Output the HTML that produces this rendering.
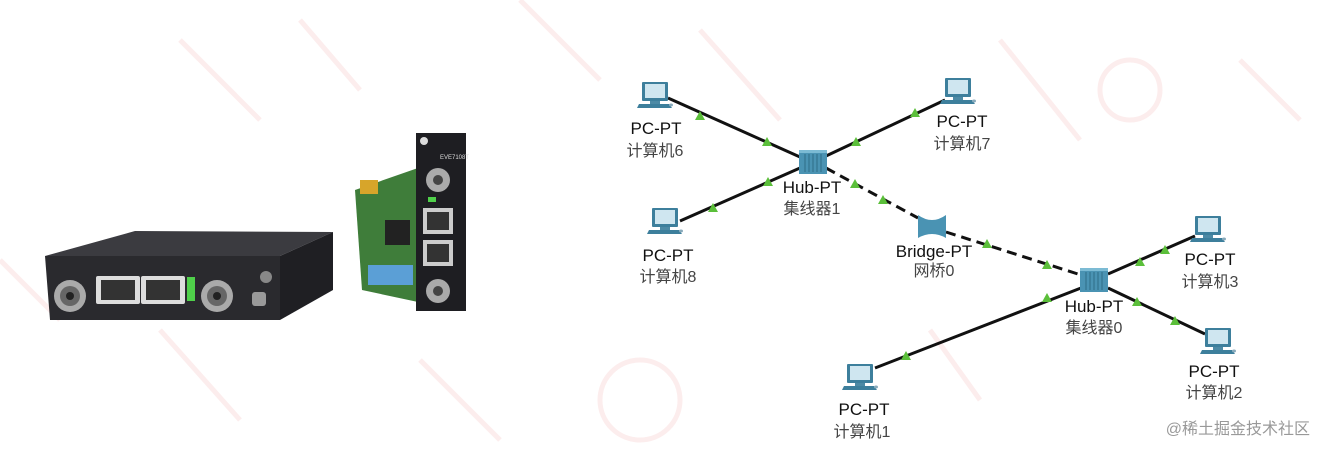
<!DOCTYPE html>
<html><head><meta charset="utf-8"><style>
html,body{margin:0;padding:0;background:#fff;}
svg{display:block;}
text{font-family:"Liberation Sans","Noto Sans CJK SC",sans-serif;}
</style></head><body>
<svg width="1324" height="454" viewBox="0 0 1324 454" xmlns="http://www.w3.org/2000/svg">
<defs>
<g id="pc">
  <rect x="-13" y="-14" width="26" height="19" fill="#3d7f9c" rx="1"/>
  <rect x="-10" y="-12" width="20" height="14" fill="#cfe6f0"/>
  <rect x="-5" y="5" width="10" height="3" fill="#4d8aa5"/>
  <polygon points="-16,8 14,8 17,12 -18,12" fill="#3d7f9c"/>
  <ellipse cx="16" cy="9" rx="2" ry="1.5" fill="#8ab"/>
</g>
<g id="hub">
  <rect x="-14" y="-12" width="28" height="24" fill="#4a93b3"/>
  <rect x="-14" y="-12" width="28" height="3" fill="#7cbbd4"/>
  <path d="M-8-8v18M-4-8v18M0-8v18M4-8v18M8-8v18" stroke="#2f6d87" stroke-width="1"/>
</g>
<polygon id="tri" points="0,-5 5,4 -5,4" fill="#5bbf3a"/>
</defs>

<g stroke="#fbe6e6" stroke-width="5" fill="none" opacity="0.7">
  <path d="M180 40 L260 120 M300 20 L360 90 M520 0 L600 80 M700 30 L780 120 M1000 40 L1080 140 M1240 60 L1300 120 M0 260 L60 320 M160 330 L240 420 M420 360 L500 440 M930 330 L980 400"/>
  <circle cx="640" cy="400" r="40"/>
  <circle cx="1130" cy="90" r="30"/>
</g>

<polygon points="45,256 135,231 333,232 280,256" fill="#3b3b40"/>
<polygon points="280,256 333,232 333,290 280,320" fill="#1f1f23"/>
<polygon points="45,256 280,256 280,320 50,320" fill="#2a2a2e"/>
<rect x="96" y="276" width="44" height="28" fill="#ddd" rx="2"/>
<rect x="101" y="280" width="34" height="20" fill="#333"/>
<rect x="141" y="276" width="44" height="28" fill="#ddd" rx="2"/>
<rect x="146" y="280" width="34" height="20" fill="#333"/>
<rect x="187" y="277" width="8" height="24" fill="#4fd04a"/>
<circle cx="70" cy="296" r="16" fill="#aaa"/><circle cx="70" cy="296" r="10" fill="#666"/><circle cx="70" cy="296" r="4" fill="#222"/>
<circle cx="217" cy="296" r="16" fill="#aaa"/><circle cx="217" cy="296" r="10" fill="#666"/><circle cx="217" cy="296" r="4" fill="#222"/>
<rect x="252" y="292" width="14" height="14" fill="#999" rx="3"/>
<circle cx="266" cy="277" r="6" fill="#888"/>

<polygon points="355,190 418,168 418,302 362,290" fill="#3f7d3a"/>
<rect x="360" y="180" width="18" height="14" fill="#d7a52a"/>
<rect x="368" y="265" width="45" height="20" fill="#5b9fd6"/>
<rect x="385" y="220" width="25" height="25" fill="#222"/>
<rect x="416" y="133" width="50" height="178" fill="#1e1e22"/>
<circle cx="438" cy="180" r="12" fill="#aaa"/><circle cx="438" cy="180" r="5" fill="#444"/>
<circle cx="438" cy="291" r="12" fill="#aaa"/><circle cx="438" cy="291" r="5" fill="#444"/>
<rect x="423" y="208" width="30" height="26" fill="#ccc"/><rect x="427" y="212" width="22" height="18" fill="#333"/>
<rect x="423" y="240" width="30" height="26" fill="#ccc"/><rect x="427" y="244" width="22" height="18" fill="#333"/>
<rect x="428" y="197" width="8" height="5" fill="#4fd04a"/>
<circle cx="424" cy="141" r="4" fill="#ddd"/>
<text x="440" y="159" font-size="6" fill="#ddd">EVE7108T</text>

<g stroke="#111" stroke-width="3" fill="none">
  <line x1="668" y1="98" x2="800" y2="157"/>
  <line x1="945" y1="100" x2="826" y2="156"/>
  <line x1="680" y1="221" x2="800" y2="168"/>
  <line x1="826" y1="168" x2="918" y2="218" stroke-dasharray="10,6"/>
  <line x1="946" y1="232" x2="1081" y2="275" stroke-dasharray="10,6"/>
  <line x1="1108" y1="274" x2="1195" y2="236"/>
  <line x1="1108" y1="288" x2="1205" y2="334"/>
  <line x1="1081" y1="288" x2="875" y2="368"/>
</g>
<g>
  <use href="#tri" x="700" y="116"/><use href="#tri" x="767" y="142"/>
  <use href="#tri" x="915" y="113"/><use href="#tri" x="856" y="142"/>
  <use href="#tri" x="713" y="208"/><use href="#tri" x="768" y="182"/>
  <use href="#tri" x="855" y="184"/><use href="#tri" x="883" y="200"/>
  <use href="#tri" x="987" y="244"/><use href="#tri" x="1047" y="265"/>
  <use href="#tri" x="1140" y="262"/><use href="#tri" x="1165" y="250"/>
  <use href="#tri" x="1137" y="302"/><use href="#tri" x="1175" y="321"/>
  <use href="#tri" x="1047" y="298"/><use href="#tri" x="906" y="356"/>
</g>

<use href="#pc" x="655" y="96"/>
<use href="#pc" x="958" y="92"/>
<use href="#pc" x="665" y="222"/>
<use href="#pc" x="1208" y="230"/>
<use href="#pc" x="1218" y="342"/>
<use href="#pc" x="860" y="378"/>
<use href="#hub" x="813" y="162"/>
<use href="#hub" x="1094" y="280"/>
<path d="M918 215 Q932 225 946 215 L946 238 Q932 230 918 238 Z" fill="#4a93b3"/>

<g font-size="17" text-anchor="middle" fill="#111">
  <text x="656" y="134">PC-PT</text>
  <text x="962" y="127">PC-PT</text>
  <text x="668" y="261">PC-PT</text>
  <text x="812" y="193">Hub-PT</text>
  <text x="934" y="257">Bridge-PT</text>
  <text x="1094" y="312">Hub-PT</text>
  <text x="1210" y="265">PC-PT</text>
  <text x="1214" y="377">PC-PT</text>
  <text x="864" y="415">PC-PT</text>
</g>
<g font-size="16" text-anchor="middle" fill="#444">
  <text x="655" y="156">计算机6</text>
  <text x="962" y="149">计算机7</text>
  <text x="668" y="282">计算机8</text>
  <text x="812" y="214">集线器1</text>
  <text x="934" y="276">网桥0</text>
  <text x="1094" y="333">集线器0</text>
  <text x="1210" y="287">计算机3</text>
  <text x="1214" y="398">计算机2</text>
  <text x="862" y="437">计算机1</text>
</g>
<text x="1310" y="434" font-size="16" text-anchor="end" fill="#999">@稀土掘金技术社区</text>
</svg>
</body></html>
